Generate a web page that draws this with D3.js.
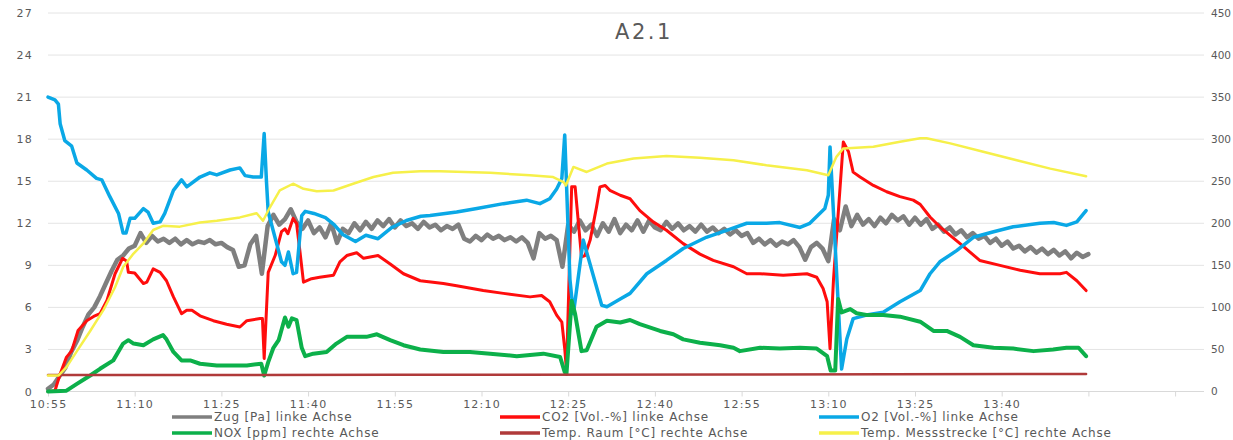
<!DOCTYPE html>
<html><head><meta charset="utf-8">
<script src="https://cdn.jsdelivr.net/npm/d3@7"></script>
<style>body{margin:0;background:#fff;} svg{display:block;font-family:"DejaVu Sans",sans-serif;}</style>
</head><body><svg id="chart" width="1233" height="440"></svg>
<script>
// ---- DATA (time in minutes after 10:55) ----
const title = "A2.1";
const xTickMinutes = [0,15,30,45,60,75,90,105,120,135,150,165,180,195];
const xTickLabels = ["10:55","11:10","11:25","11:40","11:55","12:10","12:25","12:40","12:55","13:10","13:25","13:40","",""];
const leftTicks = [0,3,6,9,12,15,18,21,24,27];
const rightTicks = [0,50,100,150,200,250,300,350,400,450];

// Zug [Pa], one value per minute from 10:55
const zugValues = [0.2,0.5,1.1,1.7,2.8,3.6,4.6,5.5,6.0,6.8,7.7,8.6,9.4,9.7,10.2,10.4,11.3,10.6,11.1,10.7,
10.9,10.6,10.9,10.5,10.8,10.5,10.7,10.6,10.8,10.5,10.6,10.3,10.1,8.9,9.0,10.5,11.1,8.4,11.8,12.6,
11.9,12.3,13.0,12.1,11.6,12.2,11.3,11.7,11.0,12.0,10.6,11.6,11.3,12.0,11.5,12.1,11.6,12.2,11.8,12.3,
11.7,12.2,11.8,12.0,11.6,12.1,11.7,11.9,11.5,11.8,11.6,11.9,10.9,10.7,11.1,10.8,11.2,10.9,11.1,10.8,
11.0,10.7,11.0,10.6,9.5,11.3,10.9,11.1,10.8,8.9,11.9,11.4,12.2,11.5,11.9,11.1,12.0,11.4,12.3,11.3,
11.9,11.5,12.2,11.4,12.2,11.7,11.5,12.1,11.6,12.0,11.5,11.8,11.4,11.9,11.4,11.7,11.3,11.6,11.2,11.5,
11.1,11.3,10.6,10.9,10.5,10.8,10.4,10.7,10.5,10.8,10.3,9.4,10.3,10.6,10.2,9.3,12.3,11.5,13.2,11.8,
12.6,11.9,12.3,11.8,12.4,12.0,12.6,12.2,12.5,11.9,12.4,11.9,12.3,11.6,11.9,11.4,11.7,11.2,11.5,11.0,
11.3,10.9,11.1,10.6,10.9,10.4,10.7,10.2,10.4,10.0,10.3,9.9,10.2,9.8,10.1,9.7,10.0,9.5,9.9,9.6,9.8];

// CO2 [Vol.-%]  [minute, value]
const co2Data = [[0,0],[1.2,0.05],[2.1,1.25],[3.2,2.45],[4.1,2.9],[5.2,4.35],[6.7,5.05],[8.1,5.4],[9,5.55],
[10.2,6.5],[11.6,8.4],[12.9,9.5],[13.6,9.3],[13.9,8.5],[15,8.45],[16.5,7.7],[17.1,7.8],[18.2,8.75],[19.4,8.5],
[20.5,7.9],[21.7,6.75],[23.1,5.55],[24,5.8],[24.9,5.8],[26.3,5.4],[28.6,5.05],[30.9,4.8],[33.2,4.6],[34.4,5.05],
[36.7,5.2],[37.1,5.2],[37.4,2.35],[38.1,8.5],[39.3,9.7],[40.4,11.4],[41,11.6],[41.5,11.25],[42.4,12.35],[43,12.0],
[43.6,9.95],[44.2,7.8],[45.6,8.05],[47,8.15],[49.4,8.3],[50.5,9.25],[51.7,9.7],[53.4,9.9],[54.6,9.5],[57.1,9.7],
[59.2,9.1],[61.5,8.4],[64.4,7.9],[66.6,7.8],[68.4,7.7],[70.7,7.55],[75.3,7.2],[78.8,7.0],[83.4,6.75],[85.4,6.85],
[86.8,6.4],[88,5.45],[88.9,4.95],[89.4,3.05],[89.7,1.5],[90.6,14.6],[91.2,14.6],[92.3,9.6],[92.9,9.7],[93.8,10.8],
[94.9,13.15],[95.5,14.6],[96.4,14.7],[97.2,14.35],[99,14.0],[100.7,13.75],[102.4,12.9],[104.7,12.1],[107,11.5],
[109.9,10.55],[112.8,9.8],[115.1,9.35],[118.6,8.9],[120.9,8.4],[123.2,8.4],[127.2,8.3],[131.3,8.4],[133,8.15],
[134.1,7.35],[134.8,6.4],[135.3,3.05],[135.9,8.0],[137.6,17.8],[138.5,17.1],[139.3,15.65],[140.5,15.3],[142.8,14.7],
[145.1,14.25],[147.4,13.9],[149.7,13.65],[150.9,13.35],[152.6,12.45],[154.3,11.75],[157.8,10.55],[161.2,9.35],
[164.7,9.0],[168.2,8.65],[171.6,8.4],[175.1,8.4],[176.2,8.5],[178,7.9],[179.6,7.2]];

// O2 [Vol.-%]  [minute, value]
const o2Data = [[0,21.0],[1.2,20.8],[1.8,20.5],[2.1,19.1],[2.9,17.9],[4.1,17.5],[5,16.3],[6.7,15.8],[8.4,15.2],
[9.3,15.1],[10.7,13.9],[12.2,12.7],[13,11.3],[13.5,11.3],[14.2,12.35],[15,12.35],[16.5,13.05],[17.3,12.8],[18.2,12.0],
[19.4,12.1],[20.2,12.7],[21.7,14.35],[23.1,15.1],[24,14.6],[26.3,15.3],[28,15.6],[29.2,15.45],[31.5,15.8],[33.2,15.95],
[34.1,15.4],[35.5,15.3],[36.9,15.3],[37.4,18.4],[37.8,14.95],[38.1,12.8],[40.4,9.25],[41,9.0],[41.6,9.95],[42.4,8.4],
[43,8.5],[43.9,12.55],[44.5,12.85],[46,12.7],[48,12.4],[49.5,11.9],[51,11.2],[53.2,10.7],[55,11.15],[57.1,10.9],
[59.5,11.7],[62,12.2],[64.5,12.5],[66.1,12.55],[70.7,12.8],[74.2,13.05],[78.8,13.4],[82.8,13.65],[85.1,13.4],
[86.8,13.75],[88,14.45],[88.9,15.2],[89.4,18.3],[90.3,8.0],[90.9,5.55],[92.6,10.8],[95.8,6.15],[96.7,6.05],[99,6.6],
[100.7,7.0],[103.6,8.4],[107,9.35],[109.9,10.2],[113.9,11.0],[117.4,11.5],[120.9,12.0],[124.3,12.0],[126.6,12.05],
[130.1,11.7],[131.8,12.0],[134.4,13.05],[135,14.0],[135.3,17.45],[137.3,1.6],[138.2,3.75],[139.3,5.2],[141.6,5.45],
[144.5,5.65],[147.4,6.4],[150.9,7.2],[152.6,8.4],[154.3,9.25],[157.2,10.05],[160.1,11.0],[163.6,11.4],[167,11.75],
[171.6,12.0],[174,12.05],[176.2,11.85],[178,12.1],[179.6,12.9]];

// NOX [ppm]  [minute, value]
const noxData = [[0,0],[3.2,1],[5,9],[7.3,19],[9,27],[11.3,37],[13,57],[13.9,61],[14.8,57],[16.5,55],[18.2,62],
[19.9,67],[20.5,62],[21.7,47],[23.1,37],[24.6,37],[26.3,33],[29.2,31],[32,31],[34.4,31],[36.9,33],[37.4,19],[38.1,35],
[39,52],[39.9,61],[41,88],[41.6,77],[42.2,87],[43,85],[43.9,52],[44.5,42],[45.9,45],[48.2,47],[49.9,57],[51.7,65],
[53.4,65],[55.1,65],[56.9,68],[59.2,61],[61.5,55],[64.4,50],[68.4,47],[73,47],[76.5,45],[81.1,42],[85.7,45],[88.6,41],
[89.4,23],[89.7,21],[90.6,108],[91.2,92],[92.3,48],[93.2,49],[94.9,77],[96.7,84],[99,82],[100.7,85],[102.4,80],
[105.9,72],[108.2,68],[109.9,62],[112.8,58],[116.3,55],[118.6,52],[119.7,48],[123.2,52],[126.6,51],[130.1,52],
[133,51],[134.8,42],[135.4,25],[136.2,25],[136.7,110],[137.3,94],[138.8,98],[139.9,93],[141.6,91],[144.5,91],
[147.4,89],[150.9,83],[153.2,72],[155.5,72],[157.8,65],[160.1,55],[163.6,52],[167,51],[170.5,48],[173.9,50],
[176.2,52],[178.3,52],[179.6,42]];

// Temp. Raum [°C]
const tempRaumData = [[0,19.5],[60,19.8],[120,20.3],[179.6,20.8]];

// Temp. Messstrecke [°C]
const tempMessData = [[0,19],[1.8,19],[3.2,29],[5,48],[7.3,72],[9.6,97],[11.6,124],[13,148],[14.8,164],[16.5,176],
[18.2,192],[19.9,197],[22.8,196],[26.3,201],[29.2,203],[33.2,207],[36.1,212],[37.2,203],[38.4,219],[40.1,239],
[42.4,247],[44.2,241],[46.5,238],[49.4,239],[52.8,247],[56.3,255],[59.7,260],[64.4,262],[67.8,262],[76.5,260],
[83.4,257],[87.4,255],[89.2,249],[89.6,245],[90.9,267],[93.2,261],[96.7,271],[101.3,277],[107,280],[112.8,278],
[118.6,275],[124.3,269],[131.3,263],[135,257],[136.4,279],[137.6,289],[142.8,291],[147.4,297],[150.9,301],[152,301],
[156.1,295],[161.8,285],[167.6,275],[173.4,265],[179.6,256]];

const seriesNames = ["Zug [Pa] linke Achse","CO2 [Vol.-%] linke Achse","O2 [Vol.-%] linke Achse",
  "NOX [ppm] rechte Achse","Temp. Raum [°C] rechte Achse","Temp. Messstrecke [°C] rechte Achse"];

// ---- DRAWING ----
const svg = d3.select("#chart");
const x = d3.scaleLinear().domain([0,200]).range([48,1204]);
const yL = d3.scaleLinear().domain([0,27]).range([391.5,13]);
const yR = d3.scaleLinear().domain([0,450]).range([391.5,13]);
const txt = "#595959";

// gridlines
svg.append("g").selectAll("line").data(leftTicks.slice(1)).join("line")
  .attr("x1",48).attr("x2",1204).attr("y1",d=>yL(d)).attr("y2",d=>yL(d))
  .attr("stroke","#e4e4e4").attr("stroke-width",1);

// x axis
const xAxis = d3.axisBottom(x).tickValues(xTickMinutes).tickSize(5).tickPadding(4)
  .tickFormat((d,i)=>xTickLabels[i]);
const gx = svg.append("g").attr("transform",`translate(0,${yL(0)})`).call(xAxis);
gx.select(".domain").attr("stroke","#d9d9d9").attr("d","M48,0H1204");
gx.selectAll(".tick line").attr("stroke","#d9d9d9");
gx.selectAll(".tick text").attr("fill",txt).attr("font-size",11).attr("letter-spacing","1.2px")
  .attr("font-family","DejaVu Sans");

// left axis
const gl = svg.append("g").attr("transform","translate(33,0)")
  .call(d3.axisLeft(yL).tickValues(leftTicks).tickSize(0).tickPadding(0));
gl.select(".domain").remove();
gl.selectAll(".tick text").attr("fill",txt).attr("font-size",11).attr("letter-spacing","1.2px")
  .attr("font-family","DejaVu Sans");

// right axis
const gr = svg.append("g").attr("transform","translate(1211,0)")
  .call(d3.axisRight(yR).tickValues(rightTicks).tickSize(0).tickPadding(0));
gr.select(".domain").remove();
gr.selectAll(".tick text").attr("fill",txt).attr("font-size",10.5).attr("letter-spacing","0px")
  .attr("font-family","DejaVu Sans");

// title
svg.append("text").attr("x",644).attr("y",39).attr("text-anchor","middle")
  .attr("fill",txt).attr("font-size",21).attr("letter-spacing","2.5px").text(title);

const zugData = zugValues.map((v,i)=>[i,v]);
const series = [
  {data:zugData, y:yL, color:"#7f7f7f", w:4.5},
  {data:co2Data, y:yL, color:"#ff0d0d", w:3},
  {data:o2Data, y:yL, color:"#0aa8e6", w:3.5},
  {data:noxData, y:yR, color:"#0cb04a", w:4},
  {data:tempRaumData, y:yR, color:"#b03a3a", w:2.5},
  {data:tempMessData, y:yR, color:"#f6f04a", w:2.5}
];
series.forEach(s=>{
  const line = d3.line().x(d=>x(d[0])).y(d=>s.y(d[1]));
  svg.append("path").datum(s.data).attr("d",line).attr("fill","none")
    .attr("stroke",s.color).attr("stroke-width",s.w)
    .attr("stroke-linejoin","round").attr("stroke-linecap","round");
});

// legend
const legX = [172,500,819], legY = [417,433];
series.forEach((s,i)=>{
  const lx = legX[i%3], ly = legY[Math.floor(i/3)];
  svg.append("line").attr("x1",lx).attr("x2",lx+40).attr("y1",ly).attr("y2",ly)
    .attr("stroke",s.color).attr("stroke-width",3.5);
  svg.append("text").attr("x",lx+42).attr("y",ly).attr("dy","0.35em")
    .attr("fill",txt).attr("font-size",12).attr("letter-spacing","0.8px").text(seriesNames[i]);
});
</script></body></html>
